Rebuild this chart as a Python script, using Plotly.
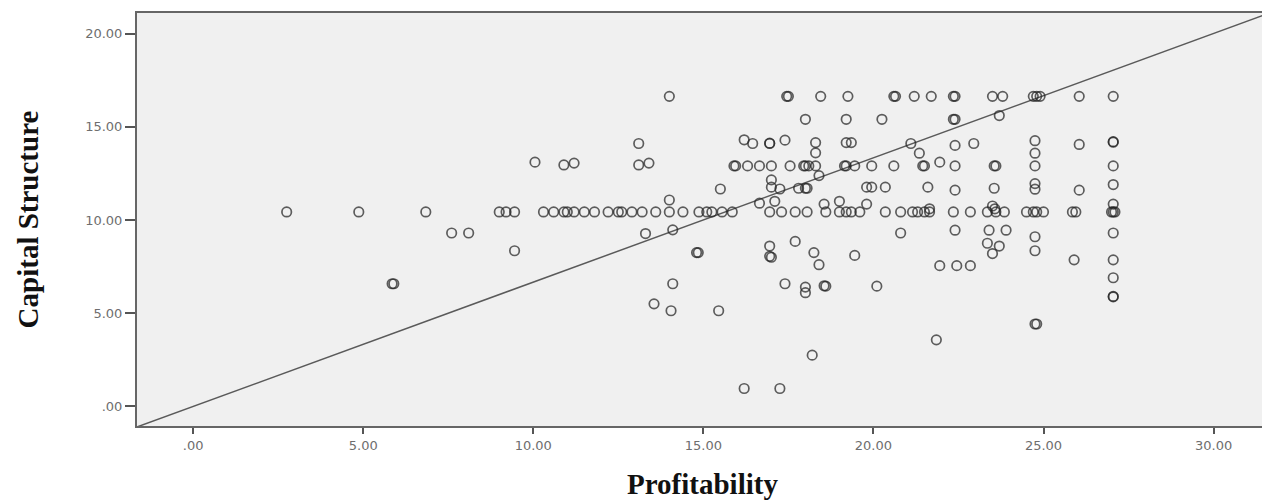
import plotly.graph_objects as go

# ---- data (Profitability, Capital Structure) ----
row_16_6_x = [14.0, 17.45, 17.5, 18.45, 19.25, 20.6, 20.65, 21.2, 21.7, 22.35, 22.4,
              23.5, 23.8, 24.7, 24.8, 24.9, 26.05, 27.05]
row_10_4_x = [2.75, 4.87, 6.84, 9.0, 9.2, 9.45, 10.3, 10.6, 10.9, 11.0, 11.2, 11.5, 11.8,
              12.2, 12.5, 12.6, 12.9, 13.2, 13.6, 14.0, 14.4, 14.87, 15.1, 15.25, 15.55,
              15.85, 16.95, 17.3, 17.7, 18.05, 18.6, 19.0, 19.2, 19.35, 19.6, 20.35, 20.8,
              21.15, 21.3, 21.5, 21.65, 22.35, 22.85, 23.35, 23.6, 23.85, 24.5, 24.7, 24.8,
              25.0, 25.85, 25.95, 27.0, 27.05, 27.1]
row_12_9_x = [15.9, 15.95, 16.3, 16.65, 17.0, 17.55, 17.95, 18.0, 18.1, 18.3, 19.15, 19.2,
              19.45, 19.95, 20.6, 21.45, 21.5, 22.4, 23.55, 23.6, 24.75, 27.05]

other_x = [18.0, 19.2, 20.25, 22.35, 22.4, 23.7,
           13.1, 16.2, 16.45, 16.95, 16.95, 17.4, 18.3, 19.2, 19.35, 21.1, 22.4, 22.95,
           24.75, 26.05, 27.05, 27.05,
           18.3, 21.35, 24.75,
           10.05, 10.9, 11.2, 13.1, 13.4, 21.95,
           18.4, 17.0,
           15.5, 17.0, 17.25, 17.8, 18.0, 18.05, 19.8, 19.95, 20.35, 21.6, 22.4, 23.55,
           24.75, 24.75, 26.05, 27.05,
           14.0, 16.65, 17.1, 18.55, 19.0, 19.8, 21.65, 23.5, 27.05, 23.57,
           7.6, 8.1, 13.3, 14.1, 20.8, 22.4, 23.4, 23.9, 24.75, 27.05,
           9.45, 14.8, 14.85, 16.95, 16.95, 17.0, 17.7, 18.25, 19.45, 23.35, 23.7, 23.5, 24.75,
           18.4, 21.95, 22.45, 22.85, 25.9, 27.05,
           27.05,
           5.85, 5.9, 14.1, 17.4, 18.0, 18.55, 18.6, 18.0, 20.1,
           27.05, 27.05,
           13.55, 14.05, 15.45,
           24.75, 24.8,
           21.85, 18.2, 16.2, 17.25]
other_y = [15.4, 15.4, 15.4, 15.4, 15.4, 15.6,
           14.1, 14.3, 14.1, 14.1, 14.12, 14.28, 14.15, 14.15, 14.15, 14.1, 14.0, 14.1,
           14.25, 14.05, 14.17, 14.2,
           13.6, 13.58, 13.58,
           13.1, 12.95, 13.05, 12.95, 13.05, 13.1,
           12.38, 12.15,
           11.66, 11.76, 11.66, 11.7, 11.7, 11.7, 11.76, 11.76, 11.76, 11.76, 11.6, 11.7,
           11.95, 11.65, 11.6, 11.9,
           11.07, 10.9, 11.0, 10.85, 11.0, 10.85, 10.6, 10.75, 10.85, 10.6,
           9.3, 9.3, 9.27, 9.47, 9.3, 9.45, 9.45, 9.45, 9.1, 9.3,
           8.35, 8.25, 8.25, 8.6, 8.05, 8.0, 8.85, 8.25, 8.1, 8.75, 8.6, 8.2, 8.35,
           7.6, 7.55, 7.55, 7.55, 7.86, 7.86,
           6.9,
           6.58, 6.58, 6.58, 6.58, 6.4, 6.47, 6.45, 6.1, 6.45,
           5.88, 5.9,
           5.5, 5.13, 5.13,
           4.42, 4.42,
           3.57, 2.75, 0.96, 0.96]

profitability = row_16_6_x + row_10_4_x + row_12_9_x + other_x
capital_structure = ([16.63] * len(row_16_6_x) + [10.43] * len(row_10_4_x)
                     + [12.9] * len(row_12_9_x) + other_y)

ref_slope = 2 / 3
x_range = [-1.65, 31.6]
y_range = [-1.05, 21.1]

x_tickvals = [0, 5, 10, 15, 20, 25, 30]
x_ticktext = [".00", "5.00", "10.00", "15.00", "20.00", "25.00", "30.00"]
y_tickvals = [0, 5, 10, 15, 20]
y_ticktext = [".00", "5.00", "10.00", "15.00", "20.00"]

fig = go.Figure()

fig.add_trace(go.Scatter(
    x=x_range, y=[v * ref_slope for v in x_range], mode="lines",
    line=dict(color="#5a5a5a", width=1.5), hoverinfo="skip", showlegend=False))

fig.add_trace(go.Scatter(
    x=profitability, y=capital_structure, mode="markers",
    marker=dict(symbol="circle-open", size=9.5,
                color="rgba(35,35,35,0.72)", line=dict(width=1.7)),
    showlegend=False))

tick_font = dict(family="DejaVu Sans", size=13, color="#6e6e6e")
title_font = dict(family="Liberation Serif", size=29, color="#111111")

# page body has an 8px margin, so the figure is placed at (8, 8)
fig.update_layout(
    width=1262, height=492,
    margin=dict(l=129, r=2, t=5, b=74),
    paper_bgcolor="white", plot_bgcolor="#f0f0f0",
    xaxis=dict(range=x_range, tickvals=x_tickvals, ticktext=x_ticktext,
               ticks="outside", ticklen=6, tickwidth=1.5, tickcolor="#555555",
               showgrid=False, zeroline=False, showline=True, mirror=True,
               linecolor="#666666", linewidth=2, tickfont=tick_font, automargin=False,
               title=dict(text="<b>Profitability</b>", font=title_font, standoff=22)),
    yaxis=dict(range=y_range, tickvals=y_tickvals, ticktext=y_ticktext,
               ticks="outside", ticklen=10, tickwidth=1.5, tickcolor="#555555",
               showgrid=False, zeroline=False, showline=True, mirror=True,
               linecolor="#666666", linewidth=2, tickfont=tick_font, automargin=False,
               title=dict(text="<b>Capital Structure</b>", font=title_font, standoff=38)),
)

fig.write_html("out.html")
